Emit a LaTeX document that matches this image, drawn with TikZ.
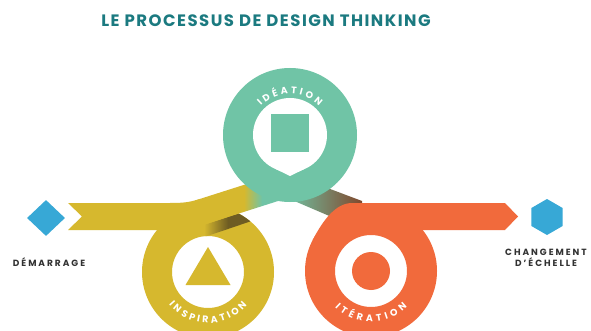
\documentclass[tikz,border=0pt]{standalone}
\usepackage{fontspec}
\setmainfont{Poppins}
\usetikzlibrary{shapes.geometric,decorations.text}

\definecolor{titleteal}{RGB}{27,122,128}
\definecolor{inspyellow}{RGB}{214,184,46}
\definecolor{ideagreen}{RGB}{112,196,166}
\definecolor{iterorange}{RGB}{241,106,60}
\definecolor{stepblue}{RGB}{55,168,214}
\definecolor{darkolive}{RGB}{110,92,35}
\definecolor{darkteal}{RGB}{45,112,98}
\definecolor{darkbrown}{RGB}{128,72,45}
\definecolor{labelgray}{RGB}{50,50,50}

\newcommand{\ringfont}{\fontsize{9.5}{10}\selectfont\bfseries\color{white}}

\tikzset{
    ringlabel/.style={decorate, decoration={text along path,
        text align={fit to path}, text={|\ringfont|#1}}},
    steplabel/.style={font=\fontsize{9}{11}\selectfont\bfseries\addfontfeature{LetterSpace=22},
        text=labelgray, align=center, inner sep=0pt},
}

\begin{document}
\begin{tikzpicture}[x=1pt, y=-1pt]
    \useasboundingbox (0,0) rectangle (591,331);
    \fill[white] (0,0) rectangle (591,331);

    % centres of the three rings
    \coordinate (insp) at (208,272);
    \coordinate (idea) at (290,135);
    \coordinate (iter) at (371,271);

    % the title
    \node[font=\fontsize{16.5}{18}\selectfont\bfseries\addfontfeature{LetterSpace=9},
        text=titleteal] (title) at (266,21) {LE PROCESSUS DE DESIGN THINKING};

    % band going down from ideation, it passes under the orange one
    \shade[left color=ideagreen, middle color=darkteal, right color=darkbrown]
        (285,172) -- (362,201) -- (362,230) -- (285,197) -- cycle;

    % the inspiration ring and the band coming from the start
    \fill[inspyellow, even odd rule] (insp) circle (66) (insp) circle (36);
    \fill[inspyellow] (68,203) -- (170,203) .. controls (185,203) and (190,202) .. (200,199)
        -- (200,226) .. controls (190,229) and (185,230) .. (170,230) -- (68,230)
        -- (82,216.5) -- cycle;

    % shadow of the rising band on the ring
    \begin{scope}[even odd rule]
        \clip (insp) circle (66) (insp) circle (36);
        \shade[left color=inspyellow, right color=darkolive]
            (204,225) -- (228,217) -- (228,229) -- (204,237) -- cycle;
        \fill[darkolive] (228,217) -- (275,202) -- (275,213) -- (228,229) -- cycle;
    \end{scope}

    % the rising band, yellow into green
    \begin{scope}
        \clip (195,200.5) -- (300,167) -- (300,194) -- (195,227.5) -- cycle;
        \fill[inspyellow] (190,160) rectangle (244,240);
        \shade[left color=inspyellow, right color=ideagreen] (244,160) rectangle (262,240);
        \fill[ideagreen] (262,160) rectangle (305,240);
    \end{scope}

    % the ideation ring
    \fill[ideagreen] (idea) circle (67);
    \fill[white] (idea) circle (37);
    \fill[white] (idea) ++(-14,34.2) -- ++(14,6.8) -- ++(14,-6.8) -- cycle;
    \fill[ideagreen] (idea) ++(-19,-21) rectangle ++(38,38);

    % the iteration ring and the band to the end
    \fill[iterorange, even odd rule] (iter) circle (66) (iter) circle (36);
    \fill[iterorange] (iter) circle (19);
    \fill[iterorange] (312.7,240) .. controls (319.7,226.8) and (333,203) .. (352,203)
        -- (505,203) -- (518,216.5) -- (505,230) -- (360,230) -- cycle;

    % the triangle in the inspiration ring
    \fill[inspyellow] (insp) ++(0,-25) -- ++(22.5,38) -- ++(-45,0) -- cycle;

    % labels along the rings
    \path[ringlabel=IDÉATION] (idea) ++(225:41) arc (225:315:41);
    \path[ringlabel=INSPIRATION] (insp) ++(140:51) arc (140:40:51);
    \path[ringlabel=ITÉRATION] (iter) ++(135:51) arc (135:45:51);

    % start and end marks
    \node[diamond, fill=stepblue, minimum width=38pt, minimum height=36pt, inner sep=0pt]
        (start) at (46,218) {};
    \node[regular polygon, regular polygon sides=6, shape border rotate=30,
        minimum size=36pt, fill=stepblue, inner sep=0pt] (finish) at (547,217) {};

    \node[steplabel] (demarrage) at (49,262) {DÉMARRAGE};
    \node[steplabel] (changement) at (546,258) {CHANGEMENT\\D'ÉCHELLE};
\end{tikzpicture}
\end{document}
